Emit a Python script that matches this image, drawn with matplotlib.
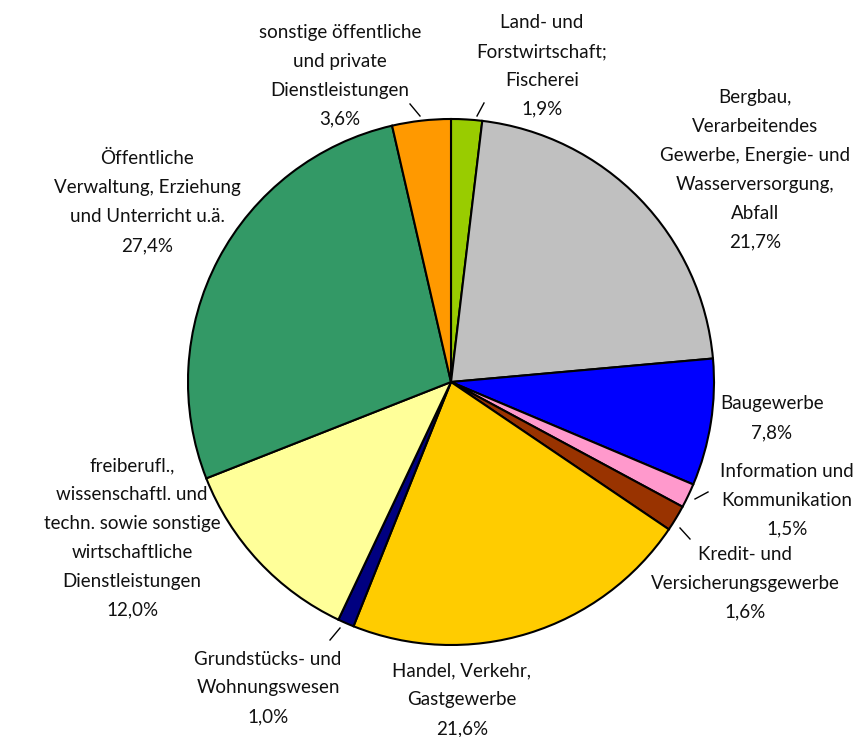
import numpy as np
import matplotlib.pyplot as plt

# shares in percent, clockwise from 12 o'clock
labels = [
    "Land- und\nForstwirtschaft;\nFischerei",
    "Bergbau,\nVerarbeitendes\nGewerbe, Energie- und\nWasserversorgung,\nAbfall",
    "Baugewerbe",
    "Information und\nKommunikation",
    "Kredit- und\nVersicherungsgewerbe",
    "Handel, Verkehr,\nGastgewerbe",
    "Grundstücks- und\nWohnungswesen",
    "freiberufl.,\nwissenschaftl. und\ntechn. sowie sonstige\nwirtschaftliche\nDienstleistungen",
    "Öffentliche\nVerwaltung, Erziehung\nund Unterricht u.ä.",
    "sonstige öffentliche\nund private\nDienstleistungen",
]
shares = [1.9, 21.7, 7.8, 1.5, 1.6, 21.6, 1.0, 12.0, 27.4, 3.6]
colors = ["#99CC00", "#C0C0C0", "#0000FF", "#FF99CC", "#993300",
          "#FFCC00", "#000080", "#FFFF99", "#339966", "#FF9900"]

W, H = 860, 737
fig = plt.figure(figsize=(W / 100, H / 100), dpi=100)
ax = fig.add_axes([0, 0, 1, 1])

cx, cy, r = 451, H - 382, 263
wedges, _ = ax.pie(shares, colors=colors, startangle=90, counterclock=False,
                   center=(cx, cy), radius=r, frame=True,
                   wedgeprops=dict(edgecolor="black", linewidth=1.5))
ax.set_xlim(0, W)
ax.set_ylim(0, H)
ax.set_aspect("equal")
ax.axis("off")

# label centres in pixel coordinates (layout only)
label_pos = [(542, 66), (755, 170), (772, 418), (787, 500), (745, 583),
             (462, 700), (268, 688), (132, 538), (147, 202), (340, 76)]
# leader lines: (start, end) in pixel coordinates, for the thin slices
leaders = {0: ((477, 116), (484, 103)), 3: ((695, 499), (708, 492)),
           4: ((680, 528), (690, 539)), 6: ((330, 640), (340, 628)),
           9: ((420, 116), (410, 104))}

for i, (lab, val) in enumerate(zip(labels, shares)):
    x, y = label_pos[i]
    txt = lab + "\n" + f"{val:.1f}%".replace(".", ",")
    ax.text(x, H - y, txt, ha="center", va="center", multialignment="center",
            fontsize=13.5, family="Lato", linespacing=1.85, color="#111111")
    if i in leaders:
        (x0, y0), (x1, y1) = leaders[i]
        ax.plot([x0, x1], [H - y0, H - y1], color="black", lw=1)

fig.savefig("out.png", dpi=100)
